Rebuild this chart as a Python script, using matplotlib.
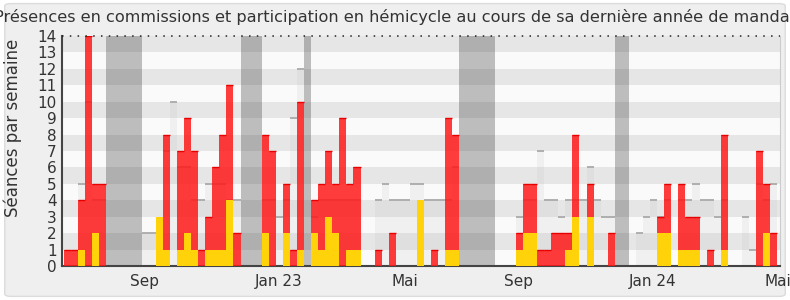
import numpy as np
import matplotlib.pyplot as plt
from matplotlib.patches import FancyBboxPatch

# one value per week, 101 weeks
commissions = [1, 1, 4, 14, 5, 5, 0, 0, 0, 0,
               0, 0, 0, 0, 8, 0, 7, 9, 7, 1,
               3, 6, 8, 11, 2, 0, 0, 0, 8, 7,
               0, 5, 1, 10, 0, 4, 5, 7, 5, 9,
               5, 6, 0, 0, 1, 0, 2, 0, 0, 0,
               0, 0, 1, 0, 9, 8, 0, 0, 0, 0,
               0, 0, 0, 0, 2, 5, 5, 1, 1, 2,
               2, 2, 8, 0, 5, 0, 0, 2, 0, 0,
               0, 0, 0, 0, 3, 5, 0, 5, 3, 3,
               0, 1, 0, 8, 0, 0, 0, 0, 7, 5,
               2]
hemicycle = [0, 0, 1, 0, 2, 0, 0, 0, 0, 0,
             0, 0, 0, 3, 1, 0, 1, 2, 1, 0,
             1, 1, 1, 4, 0, 0, 0, 0, 2, 0,
             0, 2, 0, 1, 0, 2, 1, 3, 2, 0,
             1, 1, 0, 0, 0, 0, 0, 0, 0, 0,
             4, 0, 0, 0, 1, 1, 0, 0, 0, 0,
             0, 0, 0, 0, 1, 2, 2, 0, 0, 0,
             0, 1, 3, 0, 3, 0, 0, 0, 0, 0,
             0, 0, 0, 0, 2, 2, 0, 1, 1, 1,
             0, 0, 0, 1, 0, 0, 0, 0, 0, 2,
             0]
mediane = [0, 0, 5, 10, 4, 4, 0, 0, 0, 0,
           0, 2, 2, 2, 7, 10, 6, 6, 4, 4,
           5, 5, 5, 4, 4, 0, 0, 0, 4, 4,
           3, 4, 9, 12, 0, 3, 4, 4, 4, 4,
           4, 4, 0, 0, 4, 5, 4, 4, 4, 5,
           5, 4, 4, 4, 4, 6, 0, 0, 0, 0,
           0, 0, 0, 0, 3, 4, 4, 7, 4, 4,
           3, 4, 4, 4, 6, 4, 3, 3, 0, 0,
           0, 2, 3, 4, 3, 4, 0, 4, 4, 5,
           4, 4, 3, 4, 0, 0, 3, 1, 5, 4,
           5]
vacances = [6, 7, 8, 9, 10, 25, 26, 27, 34, 56, 57, 58, 59, 60, 78, 79]
mois_pos = [11.43, 30.38, 48.34, 64.42, 83.4, 101.1]
mois_labels = ["Sep", "Jan 23", "Mai", "Sep", "Jan 24", "Mai"]

titre = ("Présences en commissions et participation en hémicycle "
         "au cours de sa dernière année de mandat")

fig = plt.figure(figsize=(7.9, 3.0), dpi=100)
fig.patch.set_facecolor("white")
cadre = FancyBboxPatch((0.006, 0.012), 0.988, 0.976,
                       boxstyle="round,pad=0,rounding_size=0.008",
                       transform=fig.transFigure, facecolor="#efefef",
                       edgecolor="#dcdcdc", lw=1, zorder=-10)
fig.add_artist(cadre)
ax = fig.add_axes([62 / 790, 34 / 300, 718 / 790, 230 / 300])
ax.set_facecolor("#fafafa")

n = len(commissions)
x = np.arange(n)
ax.set_xlim(-0.28, 101.4)
ax.set_ylim(0, 14)

# alternating stripes
for k in range(1, 14, 2):
    ax.axhspan(k, k + 1, color="#e6e6e6", lw=0, zorder=0)

# vacation bands, merged when contiguous
groups = []
for w in vacances:
    if groups and groups[-1][1] == w:
        groups[-1][1] = w + 1
    else:
        groups.append([w, w + 1])
for a, b in groups:
    ax.axvspan(a, b, color="#323232", alpha=0.3, lw=0, zorder=1)

# median of all deputies
ax.bar(x, mediane, width=1, align="edge", color="#bbbbbb", alpha=0.15, lw=0, zorder=2)
for i, m in enumerate(mediane):
    if m > 0:
        ax.hlines(m, i, i + 1, color="#aaaaaa", lw=1.3, zorder=2)

ax.bar(x, commissions, width=1, align="edge", color=(1, 0.1, 0.1), alpha=0.85,
       lw=0, zorder=3)
for i, c in enumerate(commissions):
    if c > 0:
        ax.hlines(c, i, i + 1, color="#e80000", lw=1, zorder=3)
ax.bar(x, hemicycle, width=1, align="edge", color="#ffd20a", lw=0, zorder=4)

ax.axhline(14, color="#222222", lw=1.1, linestyle=(0, (1, 4.1)), zorder=5, clip_on=False)

ax.set_yticks(range(15))
ax.set_xticks(mois_pos)
ax.set_xticklabels(mois_labels)
ax.tick_params(axis="both", length=0, labelsize=11, colors="#333333")
ax.tick_params(axis="x", pad=6)
ax.tick_params(axis="y", pad=4)
ax.set_ylabel("Séances par semaine", fontsize=12, color="#333333")
ax.yaxis.set_label_coords(-0.056, 0.6)

ax.spines["top"].set_visible(False)
ax.spines["right"].set_color("#cccccc")
ax.spines["left"].set_color("#444444")
ax.spines["left"].set_linewidth(1.5)
ax.spines["bottom"].set_color("#444444")
ax.spines["bottom"].set_linewidth(1.5)

fig.text(0.5, 0.943, titre, ha="center", va="center", fontsize=11.6, color="#333333")

fig.savefig("out.png", dpi=100)
